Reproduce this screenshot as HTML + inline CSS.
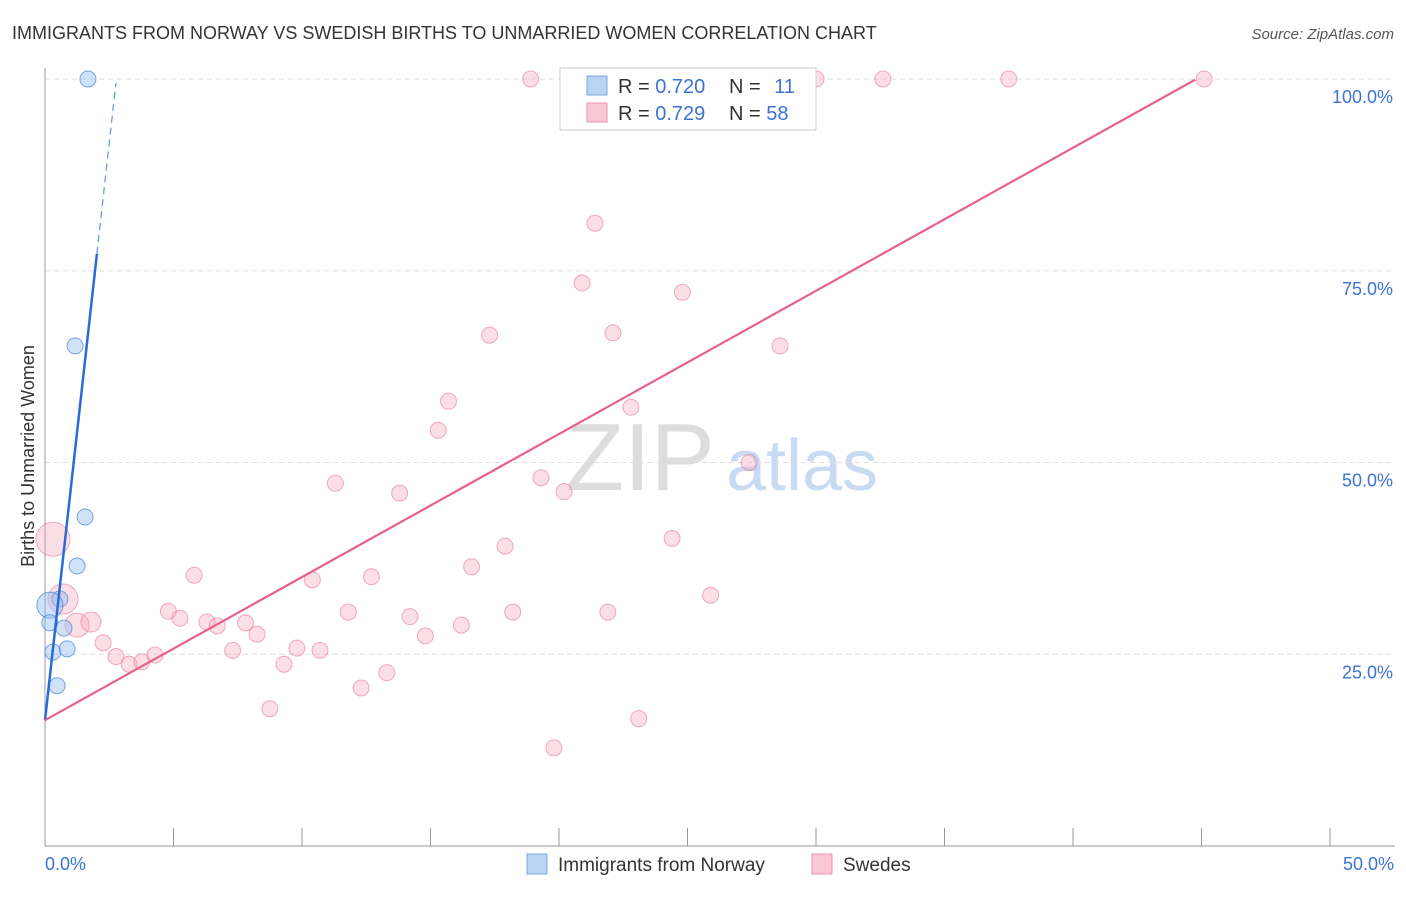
<!DOCTYPE html>
<html><head><meta charset="utf-8"><style>
body{margin:0;background:#fff;font-family:"Liberation Sans",sans-serif;}
svg text{font-family:"Liberation Sans",sans-serif;}
</style></head><body>
<svg id="c" width="1406" height="892" xmlns="http://www.w3.org/2000/svg">
<text x="12" y="39" font-size="18" fill="#333">IMMIGRANTS FROM NORWAY VS SWEDISH BIRTHS TO UNMARRIED WOMEN CORRELATION CHART</text>
<text x="1394" y="39" font-size="15" fill="#555" font-style="italic" text-anchor="end">Source: ZipAtlas.com</text>
<text x="640" y="490" font-size="96" fill="#ddd" font-family="Liberation Serif" text-anchor="middle">ZIP</text>
<text x="802" y="490" font-size="72" fill="#c9daf3" text-anchor="middle">atlas</text>
<text transform="translate(34,456) rotate(-90)" font-size="18" fill="#333" text-anchor="middle">Births to Unmarried Women</text>
<g id="grid"></g><g id="pts"></g><g id="lines"></g>
<g>
<rect x="560" y="68" width="256" height="62" fill="#fff" stroke="#ccc"/>
<rect x="587" y="76" width="20" height="19" fill="#b9d3f5" stroke="#7aa7e0"/>
<rect x="587" y="103" width="20" height="19" fill="#f9c8d6" stroke="#eb93ae"/>
<text x="618" y="93" font-size="20" fill="#333">R = <tspan fill="#3b74d4">0.720</tspan></text>
<text x="729" y="93" font-size="20" fill="#333">N = <tspan fill="#3b74d4" dx="8">11</tspan></text>
<text x="618" y="120" font-size="20" fill="#333">R = <tspan fill="#3b74d4">0.729</tspan></text>
<text x="729" y="120" font-size="20" fill="#333">N = <tspan fill="#3b74d4">58</tspan></text>
</g>
<g>
<rect x="527" y="854" width="20" height="20" fill="#b9d3f5" stroke="#7aa7e0"/>
<text x="558" y="871" font-size="19" fill="#333">Immigrants from Norway</text>
<rect x="812" y="854" width="20" height="20" fill="#f9c8d6" stroke="#eb93ae"/>
<text x="843" y="871" font-size="19" fill="#333">Swedes</text>
</g>
</svg>
<script>
const xTicks=[0,5,10,15,20,25,30,35,40,45,50];
const yTicks=[25,50,75,100];
const yTickLabels=["25.0%","50.0%","75.0%","100.0%"];
const xEndLabels=["0.0%","50.0%"];
const blueX=[1.67,1.17,1.56,1.25,0.58,0.19,0.19,0.74,0.31,0.86,0.47];
const blueY=[100,65.2,42.9,36.5,32.2,31.4,29.1,28.4,25.3,25.7,20.9];
const blueR=[8,8,8,8,8,13,8,8,8,8,8];
const pinkX=[18.9,27.8,28.4,30,32.6,37.5,45.1,21.4,20.9,24.8,17.3,22.1,28.6,15.7,22.8,15.3,27.4,19.3,20.2,11.3,13.8,17.9,24.4,5.8,16.6,10.4,12.7,25.9,4.8,5.25,11.8,18.2,21.9,14.2,6.3,7.8,6.7,16.2,8.25,14.8,9.8,10.7,7.3,2.26,2.76,3.27,3.77,4.28,9.3,13.3,12.3,8.75,23.1,19.8,0.31,0.7,1.25,1.79];
const pinkY=[100,100,100,100,100,100,100,81.2,73.4,72.2,66.6,66.9,65.2,58,57.2,54.2,50,48,46.2,47.3,46,39.1,40.1,35.3,36.4,34.7,35.1,32.7,30.6,29.7,30.5,30.5,30.5,29.9,29.2,29.1,28.7,28.8,27.6,27.4,25.8,25.5,25.5,26.5,24.7,23.7,24,24.9,23.7,22.6,20.6,17.9,16.6,12.8,40,32.2,28.8,29.2];
const pinkR=[8,8,8,8,8,8,8,8,8,8,8,8,8,8,8,8,8,8,8,8,8,8,8,8,8,8,8,8,8,8,8,8,8,8,8,8,8,8,8,8,8,8,8,8,8,8,8,8,8,8,8,8,8,8,17,15,12,10];
const blueFit=[16.4,30.1]; const pinkFit=[16.4,1.866];
const X=v=>45+v*25.7, Y=v=>846-v*7.67;
const NS="http://www.w3.org/2000/svg";
function mk(t,a,p){const e=document.createElementNS(NS,t);for(const k in a)e.setAttribute(k,a[k]);p.appendChild(e);return e;}
const g=document.getElementById('grid');
yTicks.forEach((t,i)=>{
 const l=mk('line',{x1:45,x2:1395,y1:Y(t),y2:Y(t),stroke:'#ddd','stroke-dasharray':'5,4'},g);
 
 
 const tx=mk('text',{x:1393,y:Y(t)+24,'font-size':18,fill:'#3b74d4','text-anchor':'end'},g);
 tx.textContent=yTickLabels[i];
 
 
});
const ax=mk('line',{x1:45,x2:45,y1:68,y2:846,stroke:'#999'},g);


const bx=mk('line',{x1:45,x2:1395,y1:846,y2:846,stroke:'#999'},g);


xTicks.forEach(t=>{
 const l=mk('line',{x1:X(t),x2:X(t),y1:828,y2:846,stroke:'#999'},g);
 
 
});
[[0,'start',45],[50,'end',1394]].forEach((d,i)=>{
 const tx=mk('text',{x:d[2],y:870,'font-size':18,fill:'#3b74d4','text-anchor':d[1]},g);
 tx.textContent=xEndLabels[i];
 
 
});
const p=document.getElementById('pts');
pinkX.forEach((x,i)=>{
 const c=mk('circle',{cx:X(x),cy:Y(pinkY[i]),r:pinkR[i],fill:'rgba(245,160,185,0.35)',stroke:'rgba(230,120,155,0.6)'},p);
 
 
});
blueX.forEach((x,i)=>{
 const c=mk('circle',{cx:X(x),cy:Y(blueY[i]),r:blueR[i],fill:'rgba(150,190,240,0.45)',stroke:'rgba(70,130,210,0.7)'},p);
 
 
});
const L=document.getElementById('lines');
const l1=mk('line',{x1:X(0),y1:Y(blueFit[0]),x2:X(2.02),y2:Y(blueFit[0]+blueFit[1]*2.02),stroke:'#2a6ad6','stroke-width':2.5},L);


const l2=mk('line',{x1:X(2.02),y1:Y(blueFit[0]+blueFit[1]*2.02),x2:X(2.76),y2:Y(blueFit[0]+blueFit[1]*2.76),stroke:'#6a9be0','stroke-width':1.3,'stroke-dasharray':'7,5'},L);


const l3=mk('line',{x1:X(0),y1:Y(pinkFit[0]),x2:X(44.75),y2:Y(pinkFit[0]+pinkFit[1]*44.75),stroke:'#e8608c','stroke-width':2.2},L);


</script>
</body></html>
